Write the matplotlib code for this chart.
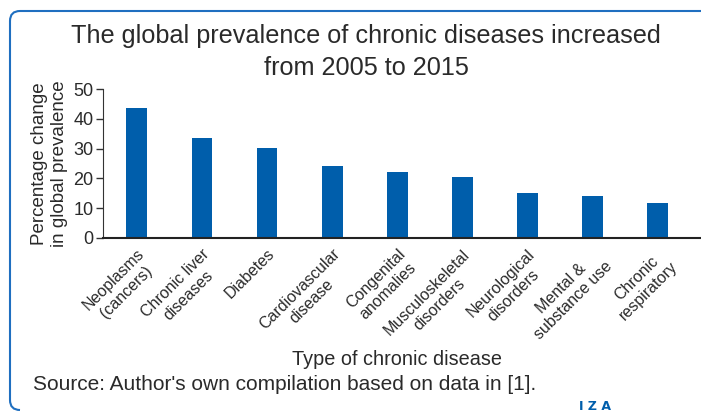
import matplotlib
matplotlib.use("Agg")
import matplotlib.pyplot as plt
from matplotlib.path import Path
from matplotlib.patches import PathPatch
from matplotlib import font_manager

names = {f.name for f in font_manager.fontManager.ttflist}
fam = ['Liberation Sans Narrow', 'DejaVu Sans'] if 'Liberation Sans Narrow' in names else ['Liberation Sans', 'DejaVu Sans']
plt.rcParams['font.family'] = fam

categories = ["Neoplasms\n(cancers)", "Chronic liver\ndiseases", "Diabetes",
              "Cardiovascular\ndisease", "Congenital\nanomalies", "Musculoskeletal\ndisorders",
              "Neurological\ndisorders", "Mental &\nsubstance use", "Chronic\nrespiratory"]
values = [43.6, 33.5, 30.2, 24.2, 22.1, 20.4, 15.1, 14.1, 11.7]
yticks = [0, 10, 20, 30, 40, 50]

W, H = 701, 412
fig = plt.figure(figsize=(W/100, H/100), dpi=100)
ax = fig.add_axes([103/W, 1-238/H, (700-103)/W, (238-89)/H])

txt = '#2a2a2a'
x = list(range(len(values)))
ax.bar(x, values, width=0.32, color='#005EAB', zorder=2)
ax.set_xlim(-0.52, 8.65)
ax.set_ylim(0, 50)
ax.set_yticks(yticks)
ax.set_yticklabels([str(t) for t in yticks], fontsize=13, color=txt)
ax.set_xticks(x)
ax.set_xticklabels(categories, rotation=45, ha='right', rotation_mode='anchor',
                   fontsize=11.5, color=txt, multialignment='center')
ax.tick_params(axis='x', length=0, pad=6)
ax.tick_params(axis='y', length=5, width=1, color='#333333', pad=2)
for s in ['top', 'right']:
    ax.spines[s].set_visible(False)
ax.spines['left'].set_color('#333333')
ax.spines['bottom'].set_color('#222222')
ax.spines['bottom'].set_linewidth(1.5)
ax.set_ylabel("Percentage change\nin global prevalence", fontsize=13.5, color=txt, labelpad=4)
ax.set_xlabel("Type of chronic disease", fontsize=14.3, color=txt, labelpad=8)
ax.xaxis.set_label_coords((397-103)/(700-103), -(350-238)/(238-89))

fig.text(366/W, 1-36/H, "The global prevalence of chronic diseases increased",
         ha='center', va='center', fontsize=18.2, color=txt)
fig.text(366/W, 1-68/H, "from 2005 to 2015",
         ha='center', va='center', fontsize=18.2, color=txt)
fig.text(33/W, 1-384/H, "Source: Author's own compilation based on data in [1].",
         ha='left', va='center', fontsize=15, color=txt)
fig.text(595/W, 1-406/H, "I Z A", ha='center', va='center', fontsize=9,
         color='#005EAB', fontweight='bold', family=['DejaVu Sans'])

# rounded border
verts = [(W, 11), (20, 11), (10, 11), (10, 21), (10, 400), (10, 410), (20, 410)]
codes = [Path.MOVETO, Path.LINETO, Path.CURVE3, Path.CURVE3, Path.LINETO, Path.CURVE3, Path.CURVE3]
verts = [(vx / W, 1 - vy / H) for vx, vy in verts]
fig.patches.append(PathPatch(Path(verts, codes), fill=False, edgecolor='#1f6fc0',
                             linewidth=1.5, transform=fig.transFigure))

fig.savefig("out.png", dpi=100)
